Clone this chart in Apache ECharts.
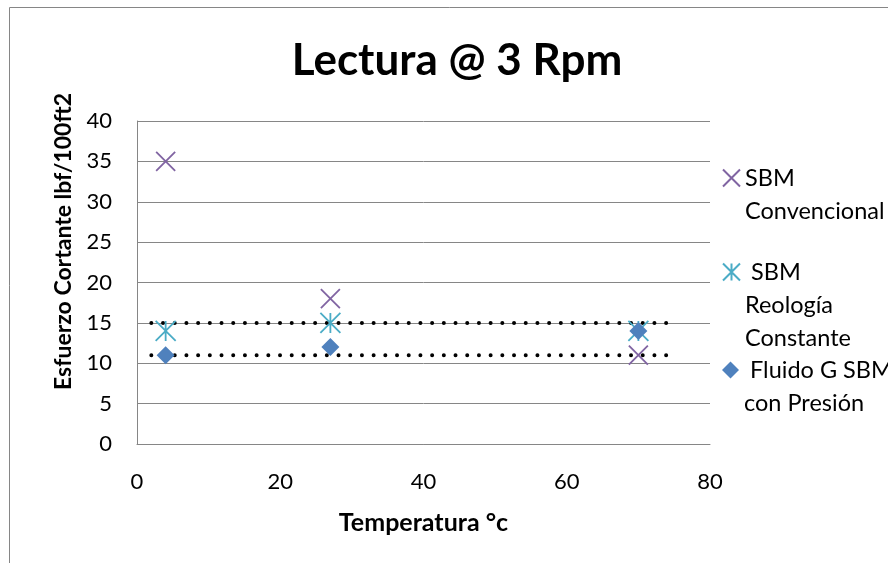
<!DOCTYPE html>
<html><head><meta charset="utf-8">
<script src="https://cdn.jsdelivr.net/npm/echarts@6/dist/echarts.min.js"></script>
<style>html,body{margin:0;padding:0;background:#fff}#c{width:888px;height:563px}</style>
</head><body><div id="c"></div>
<script>
// ---- data ----
const titleText = 'Lectura @ 3 Rpm';
const xName = 'Temperatura °c';
const yName = 'Esfuerzo Cortante lbf/100ft2';
const seriesNames = ['SBM Convencional', 'SBM Reología Constante', 'Fluido G SBM con Presión'];
const legendLines = [['SBM', 'Convencional'], [' SBM', 'Reología', 'Constante'], [' Fluido G SBM', 'con Presión']];
const temps = [4, 27, 70];
const sbmConvencional = [35, 18, 11];
const sbmReologia = [14, 15, 14];
const fluidoG = [11, 12, 14];
const refX = [2, 74];
const refUpper = [15, 15];
const refLower = [11, 11];
const xTickLabels = [0, 20, 40, 60, 80];
const yTickLabels = [0, 5, 10, 15, 20, 25, 30, 35, 40];

// ---- styling ----
const FONT = 'Lato, "Open Sans", sans-serif';
const GRAY = '#868686';
const colors = ['#8064A2', '#4BACC6', '#4F81BD'];
const symbols = ['path://M0,0L10,10M10,0L0,10', 'path://M0,0L10,10M10,0L0,10M5,0L5,10', 'diamond'];
const symbolSizes = [19, 20, 18];
const LH = 33;
const iconCenters = [178, 272, 370];

const pairs = (xs, ys) => xs.map((x, i) => [x, ys[i]]);
const values = [sbmConvencional, sbmReologia, fluidoG];

const chart = echarts.init(document.getElementById('c'), null, {renderer: 'canvas'});
const option = {
  animation: false,
  backgroundColor: '#fff',
  textStyle: {fontFamily: FONT},
  title: {
    text: titleText, left: 457, top: 39, textAlign: 'center', padding: 0,
    textStyle: {fontFamily: FONT, fontWeight: 'bold', fontSize: 44, color: '#000'}
  },
  grid: {left: 137, right: 178, top: 121, bottom: 119, containLabel: false, outerBoundsMode: 'none'},
  xAxis: {
    type: 'value',
    min: xTickLabels[0], max: xTickLabels[xTickLabels.length - 1], interval: xTickLabels[1] - xTickLabels[0],
    name: xName, nameLocation: 'middle', nameGap: 66,
    nameTextStyle: {fontFamily: FONT, fontWeight: 'bold', fontSize: 25, color: '#000'},
    axisLine: {show: true, onZero: false, lineStyle: {color: GRAY, width: 1}},
    axisTick: {show: false},
    splitLine: {show: false},
    axisLabel: {fontFamily: FONT, fontSize: 22, color: '#000', margin: 27}
  },
  yAxis: {
    type: 'value',
    min: yTickLabels[0], max: yTickLabels[yTickLabels.length - 1], interval: yTickLabels[1] - yTickLabels[0],
    name: yName, nameLocation: 'middle', nameGap: 62,
    nameTextStyle: {fontFamily: FONT, fontWeight: 'bold', fontSize: 23, color: '#000', padding: [0, 0, 0, 82]},
    axisLine: {show: true, lineStyle: {color: GRAY, width: 1}},
    axisTick: {show: false},
    splitLine: {show: true, lineStyle: {color: GRAY, width: 1}},
    axisLabel: {fontFamily: FONT, fontSize: 22, color: '#000', margin: 25}
  },
  legend: seriesNames.map((n, i) => {
    const extra = legendLines[i].length - 1;
    return {
      data: [n], orient: 'vertical', left: 722,
      top: iconCenters[i] - LH / 2 - extra * LH, padding: 0,
      itemWidth: 17, itemHeight: 17, itemGap: 0, selectedMode: false,
      formatter: () => '\n'.repeat(extra) + legendLines[i].join('\n'),
      textStyle: {fontFamily: FONT, fontSize: 23.5, color: '#000', lineHeight: LH}
    };
  }),
  graphic: [{
    type: 'rect', z: -10, silent: true,
    shape: {x: 9.5, y: 7.5, width: 1000, height: 1000},
    style: {fill: 'none', stroke: GRAY, lineWidth: 1}
  }],
  series: [
    {type: 'line', name: 'ref15', data: pairs(refX, refUpper), showSymbol: false, silent: true, z: 1,
      lineStyle: {color: '#000', width: 4, type: [0, 11.7], cap: 'round'}},
    {type: 'line', name: 'ref11', data: pairs(refX, refLower), showSymbol: false, silent: true, z: 1,
      lineStyle: {color: '#000', width: 4, type: [0, 11.7], cap: 'round'}}
  ].concat(seriesNames.map((n, i) => ({
    type: 'scatter', name: n, data: pairs(temps, values[i]), z: 3 + i,
    symbol: symbols[i], symbolSize: symbolSizes[i],
    itemStyle: {color: colors[i], borderColor: colors[i], borderWidth: i < 2 ? 1.8 : 0, opacity: 1}
  })))
};
chart.setOption(option);
</script>
</body></html>
